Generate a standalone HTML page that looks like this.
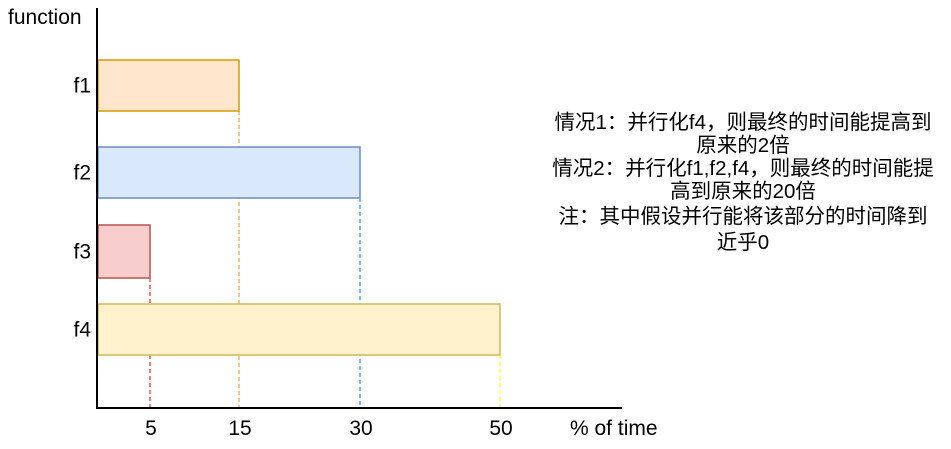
<!DOCTYPE html>
<html><head><meta charset="utf-8"><style>
html,body{margin:0;padding:0;background:#fff;}
svg text{font-family:"Liberation Sans","Noto Sans CJK SC",sans-serif;fill:#000;}
</style></head><body>
<svg id="chart" width="951" height="444" xmlns="http://www.w3.org/2000/svg">
<g id="marks"></g>
<line x1="97" y1="8" x2="97" y2="408" stroke="#000" stroke-width="2"/>
<line x1="96" y1="408" x2="622" y2="408" stroke="#000" stroke-width="2"/>
<text x="8" y="24" font-size="21">function</text>
<text x="570" y="435" font-size="21">% of time</text>
<g id="ticks"></g>
<g font-size="20.5" text-anchor="middle">
<text x="743" y="129">情况1：并行化f4，则最终的时间能提高到</text>
<text x="743" y="152">原来的2倍</text>
<text x="743" y="175">情况2：并行化f1,f2,f4，则最终的时间能提</text>
<text x="743" y="198">高到原来的20倍</text>
<text x="743" y="223">注：其中假设并行能将该部分的时间降到</text>
<text x="743" y="249">近乎0</text>
</g>
</svg>
<script>
const categories = ["f1","f2","f3","f4"];
const values = [15,30,5,50];
const tickLabels = [5,15,30,50];
const fills = ["#ffe6cc","#dae8fc","#f8cecc","#fff2cc"];
const strokes = ["#d79b00","#6c8ebf","#b85450","#d6b656"];
const dashColors = ["#ffa64d","#3399ff","#ff3333","#ffff33"];
// axis: piecewise-linear mapping (diagram axis is non-uniform)
const axisDomain = [0,5,15,30,50,60];
const axisRange = [97,150,239,360,500,570];
function x(v){
  for(let i=0;i<axisDomain.length-1;i++){
    if(v<=axisDomain[i+1]||i===axisDomain.length-2){
      const t=(v-axisDomain[i])/(axisDomain[i+1]-axisDomain[i]);
      return axisRange[i]+t*(axisRange[i+1]-axisRange[i]);
    }
  }
}
function yTop(i){return [60,147,225,304][i];}
const barH = [51,51,53,51];
const NS="http://www.w3.org/2000/svg";
const g=document.getElementById('marks');
categories.forEach((c,i)=>{
  const xr=x(values[i]);
  const d=document.createElementNS(NS,'line');
  
  
  d.setAttribute('x1',xr);d.setAttribute('x2',xr);
  d.setAttribute('y1',yTop(i)+barH[i]);d.setAttribute('y2',408);
  d.setAttribute('stroke',dashColors[i]);d.setAttribute('stroke-dasharray','4 3');d.setAttribute('stroke-width','1.3');
  g.appendChild(d);
  const r=document.createElementNS(NS,'rect');
  
  
  r.setAttribute('x',98);r.setAttribute('y',yTop(i));
  r.setAttribute('width',xr-98);r.setAttribute('height',barH[i]);
  r.setAttribute('fill',fills[i]);r.setAttribute('stroke',strokes[i]);r.setAttribute('stroke-width','1.5');
  g.appendChild(r);
  const t=document.createElementNS(NS,'text');
  
  
  t.setAttribute('x',91);t.setAttribute('y',yTop(i)+barH[i]/2+7);
  t.setAttribute('text-anchor','end');t.setAttribute('font-size','21');
  t.textContent=c;
  g.appendChild(t);
});
const tg=document.getElementById('ticks');
tickLabels.forEach(v=>{
  const t=document.createElementNS(NS,'text');
  
  
  t.setAttribute('x',x(v)+1);t.setAttribute('y',435);
  t.setAttribute('text-anchor','middle');t.setAttribute('font-size','21');
  t.textContent=v;
  tg.appendChild(t);
});
</script>
</body></html>
